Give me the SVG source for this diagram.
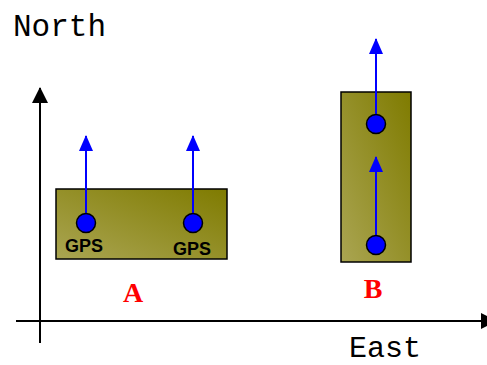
<svg xmlns="http://www.w3.org/2000/svg" width="487" height="365" viewBox="0 0 487 365">
  <defs>
    <linearGradient id="olive" x1="0" y1="1" x2="1" y2="0">
      <stop offset="0" stop-color="#aaa552"/>
      <stop offset="1" stop-color="#7f7b00"/>
    </linearGradient>
    <marker id="headBlue" viewBox="0 0 16 14" refX="15" refY="7" markerWidth="16" markerHeight="14" markerUnits="userSpaceOnUse" orient="auto">
      <path d="M0,0 L16,7 L0,14 Z" fill="#0000ff"/>
    </marker>
    <marker id="headBlack" viewBox="0 0 16 16" refX="15" refY="8" markerWidth="16" markerHeight="16" markerUnits="userSpaceOnUse" orient="auto">
      <path d="M0,0 L16,8 L0,16 Z" fill="#000"/>
    </marker>
  </defs>
  <style>
    .mono { font-family: "Liberation Mono", "DejaVu Sans Mono", monospace; font-size: 31px; fill: #000; }
    .axis { stroke: #000; stroke-width: 2; fill: none; }
    .body { fill: url(#olive); stroke: #000; stroke-width: 1.5; }
    .vec { stroke: #0000ff; stroke-width: 2; fill: none; marker-end: url(#headBlue); }
    .gps { fill: #0000ff; stroke: #000; stroke-width: 1.5; }
    .gpsLabel { font-family: "Liberation Sans", Arial, sans-serif; font-weight: bold; font-size: 18px; fill: #000; text-anchor: middle; }
    .name { font-family: "Liberation Serif", "Times New Roman", serif; font-weight: bold; font-size: 28px; fill: #ff0000; text-anchor: middle; }
  </style>

  <!-- axes -->
  <g id="axes">
    <line class="axis" x1="40" y1="343" x2="40" y2="88" marker-end="url(#headBlack)"/>
    <line class="axis" x1="16" y1="321" x2="496" y2="321" marker-end="url(#headBlack)"/>
    <text class="mono" x="13" y="36">North</text>
    <text class="mono" x="349" y="357" style="font-size:30px">East</text>
  </g>

  <!-- body A: two GPS receivers side by side -->
  <g id="bodyA">
    <rect class="body" x="56" y="189" width="171" height="70"/>
    <text class="name" x="133" y="302">A</text>
  </g>

  <!-- body B: two receivers stacked -->
  <g id="bodyB">
    <rect class="body" x="341" y="92" width="70" height="170"/>
    <text class="name" x="373" y="298">B</text>
  </g>

  <!-- heading vectors -->
  <g id="connectors">
    <line class="vec" x1="86" y1="223" x2="86" y2="136"/>
    <line class="vec" x1="193" y1="223" x2="193" y2="136"/>
    <line class="vec" x1="376" y1="124" x2="376" y2="39"/>
    <line class="vec" x1="376" y1="245" x2="376" y2="157"/>
  </g>

  <!-- receivers -->
  <g id="gpsA1">
    <circle class="gps" cx="86" cy="223" r="9.5"/>
    <text class="gpsLabel" x="84" y="252">GPS</text>
  </g>
  <g id="gpsA2">
    <circle class="gps" cx="193" cy="223" r="9.5"/>
    <text class="gpsLabel" x="192" y="255">GPS</text>
  </g>
  <g id="gpsB1">
    <circle class="gps" cx="376" cy="124" r="9.5"/>
  </g>
  <g id="gpsB2">
    <circle class="gps" cx="376" cy="245" r="9.5"/>
  </g>
</svg>
